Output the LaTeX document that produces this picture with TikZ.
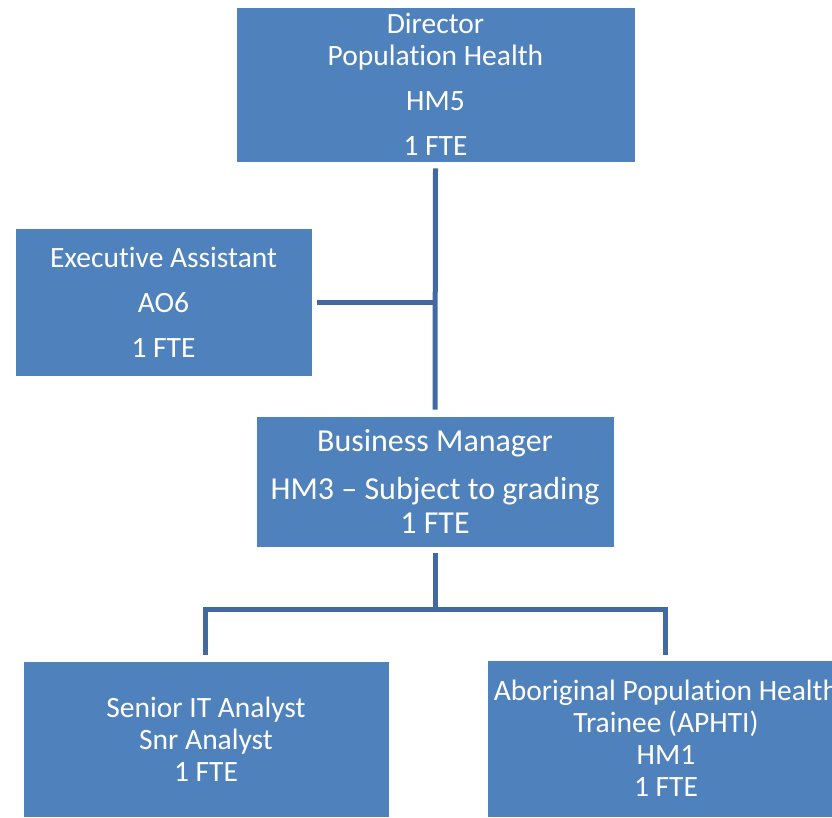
\documentclass[tikz,border=0pt]{standalone}
\usepackage{fontspec}
\setmainfont[RawFeature={-liga;-clig;-calt;-dlig}]{Carlito}
\definecolor{boxblue}{RGB}{79,129,189}
\definecolor{linkblue}{RGB}{66,106,160}
\tikzset{
  orgbox/.style={fill=boxblue, draw=white, line width=0.8pt, text=white, align=center,
    font=\fontsize{29.5}{32}\selectfont, inner sep=0pt},
  link/.style={draw=linkblue, line width=5pt}
}
\begin{document}
\begin{tikzpicture}[x=1pt,y=-1pt]
\useasboundingbox (0,0) rectangle (832,817);
\node[orgbox, minimum width=399pt, minimum height=155pt] (dir) at (435.5,84.5)
  {Director\\Population Health\\[13pt]HM5\\[13pt]1 FTE};
\node[orgbox, minimum width=297pt, minimum height=148pt] (ea) at (163.5,302)
  {Executive Assistant\\[13pt]AO6\\[13pt]1 FTE};
\node[orgbox, minimum width=358pt, minimum height=131pt, font=\fontsize{32}{34}\selectfont] (bm) at (435,481.5)
  {Business Manager\\[14pt]HM3 – Subject to grading\\[0pt]1 FTE};
\node[orgbox, minimum width=366pt, minimum height=156pt] (it) at (206,739)
  {Senior IT Analyst\\Snr Analyst\\1 FTE};
\node[orgbox, minimum width=358pt, minimum height=157pt] (ab) at (666,738.5)
  {Aboriginal Population Health\\Trainee (APHTI)\\HM1\\1 FTE};
\coordinate (jt) at (435,302);
\coordinate (jb) at (435,609);
\coordinate (jl) at (205,609);
\coordinate (jr) at (665,609);
\draw[link] ([yshift=-6pt]dir.south) -- ([yshift=6pt]bm.north);
\draw[link] ([xshift=5pt]ea.east) -- (jt);
\draw[link] ([yshift=-6pt]bm.south) -- (jb);
\draw[link] ([yshift=6pt]it.north -| jl) -- (jl) -- (jr) -- ([yshift=5pt]ab.north -| jr);
\end{tikzpicture}
\end{document}
